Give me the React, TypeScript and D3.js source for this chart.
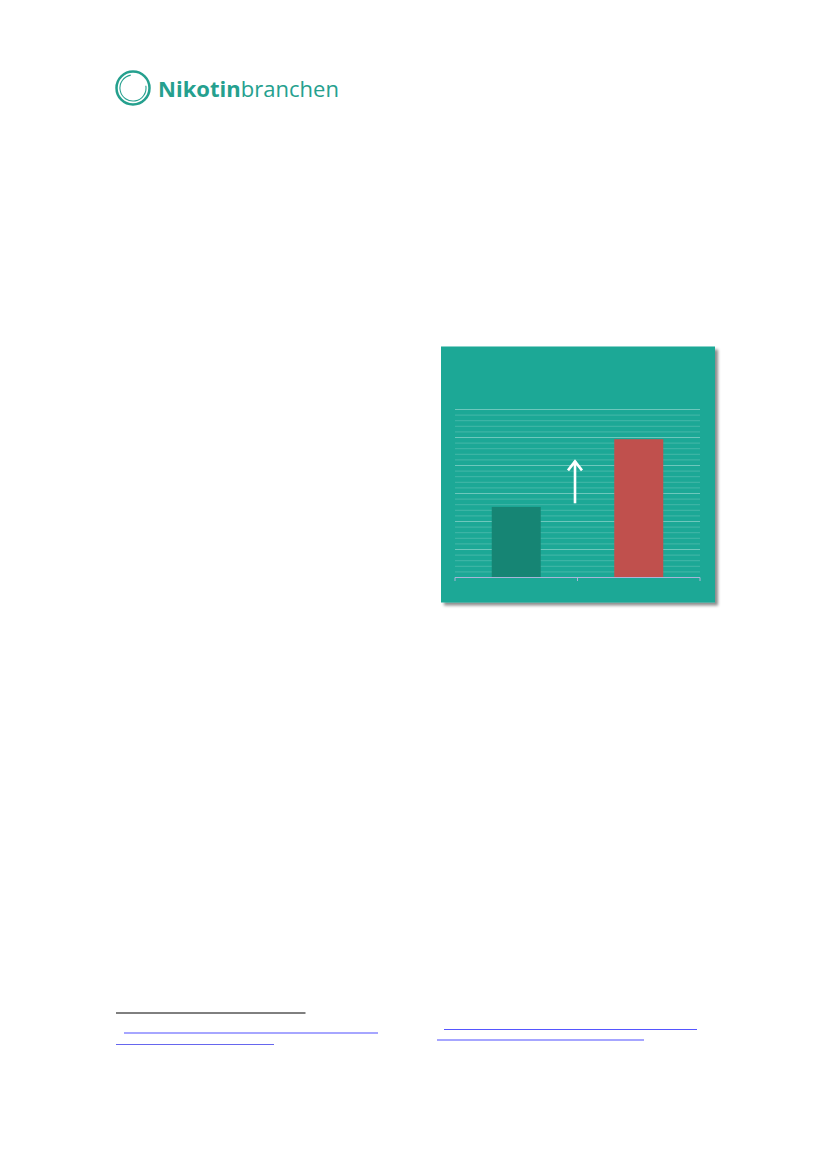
import React from "react";
import * as d3 from "d3";

const categories = ["Før", "Efter"];
const values = [12.6, 24.7];
const barColors = ["#168574", "#c0504d"];
const yDomain = [0, 30];
const minorStep = 1;
const majorEvery = 5;
const arrowFrom = 13.25;
const arrowTo = 21;

const W = 827;
const H = 1169;

export default function App() {
  const panel = { x: 441, y: 346.5, w: 274, h: 256 };
  const plot = { left: 455, right: 700, top: 409.5, bottom: 577.5 };

  const y = d3.scaleLinear().domain(yDomain).range([plot.bottom, plot.top]);
  const x = d3
    .scaleBand<string>()
    .domain(categories)
    .range([plot.left, plot.right])
    .paddingInner(0.6)
    .paddingOuter(0.3);

  const gridVals = d3.range(yDomain[0] + minorStep, yDomain[1] + 0.001, minorStep);
  const step = x.step();
  const boundaries = [plot.left, plot.left + step, plot.right];
  const arrowX = plot.left + step - 2.5;

  const ringArc = d3.arc()({
    innerRadius: 12.5,
    outerRadius: 13.6,
    startAngle: (80 * Math.PI) / 180,
    endAngle: (350 * Math.PI) / 180,
  } as any) as string;

  return (
    <svg
      width={W}
      height={H}
      viewBox={`0 0 ${W} ${H}`}
      style={{ position: "absolute", left: 0, top: 0, background: "#fff" }}
    >
      <defs>
        <filter id="sh" x="-10%" y="-10%" width="125%" height="125%">
          <feDropShadow dx="3" dy="3" stdDeviation="1.8" floodColor="#000" floodOpacity="0.45" />
        </filter>
      </defs>

      {/* Logo */}
      <g>
        <circle cx={133} cy={88} r={16.5} fill="none" stroke="#25a08e" strokeWidth={2.5} />
        <path d={ringArc} transform="translate(133,88)" fill="#25a08e" />
        <text
          x={158}
          y={97}
          fontFamily="'Open Sans', Lato, sans-serif"
          fontSize={22}
          fill="#25a08e"
          textLength={181}
          lengthAdjust="spacing"
        >
          <tspan fontWeight={700}>Nikotin</tspan>
          <tspan fontWeight={400}>branchen</tspan>
        </text>
      </g>

      {/* Chart panel */}
      <rect x={panel.x} y={panel.y} width={panel.w} height={panel.h} fill="#1ba896" filter="url(#sh)" />

      {/* gridlines */}
      {gridVals.map((v, i) => {
        const major = Math.round(v / minorStep) % majorEvery === 0;
        return (
          <line
            key={i}
            x1={plot.left}
            x2={plot.right}
            y1={y(v)}
            y2={y(v)}
            stroke="#ffffff"
            strokeOpacity={major ? 0.36 : 0.18}
            strokeWidth={1}
          />
        );
      })}

      {/* bars */}
      {categories.map((c, i) => (
        <rect
          key={c}
          x={x(c)}
          y={y(values[i])}
          width={x.bandwidth()}
          height={y(0) - y(values[i])}
          fill={barColors[i]}
        />
      ))}

      {/* axis */}
      <line x1={plot.left} x2={plot.right} y1={y(0)} y2={y(0)} stroke="#a9b5d9" strokeWidth={1.2} />
      {boundaries.map((bx, i) => (
        <line key={i} x1={bx} x2={bx} y1={y(0)} y2={y(0) + 3.5} stroke="#a9b5d9" strokeWidth={1} />
      ))}

      {/* arrow */}
      <g stroke="#ffffff" strokeWidth={2.6} fill="none" strokeLinecap="butt">
        <line x1={arrowX} x2={arrowX} y1={y(arrowFrom)} y2={y(arrowTo) + 1} />
        <polyline
          points={`${arrowX - 7},${y(arrowTo) + 10.5} ${arrowX},${y(arrowTo) + 1.5} ${arrowX + 7},${y(arrowTo) + 10.5}`}
          strokeLinejoin="miter"
        />
      </g>

      {/* footnote separator and link underlines */}
      <line x1={116} x2={305.5} y1={1013} y2={1013} stroke="#000" strokeWidth={1} />
      <line x1={124} x2={378} y1={1033} y2={1033} stroke="#a6a6ff" strokeWidth={2} />
      <line x1={116} x2={274} y1={1044.5} y2={1044.5} stroke="#6666ee" strokeWidth={1} />
      <line x1={444} x2={697} y1={1029.5} y2={1029.5} stroke="#5555ff" strokeWidth={1} />
      <line x1={437} x2={644} y1={1040} y2={1040} stroke="#a6a6ff" strokeWidth={2} />
    </svg>
  );
}
